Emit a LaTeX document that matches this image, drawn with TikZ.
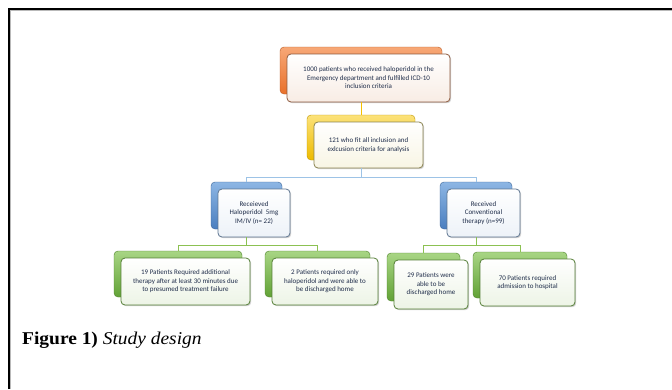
\documentclass[tikz,border=0pt]{standalone}
\usepackage{fontspec}
\setmainfont{Liberation Serif}
\newfontfamily\capfont[FakeStretch=1.08]{Liberation Serif}
\newfontfamily\boxfont{Carlito}
\usetikzlibrary{shadows}
\definecolor{txt}{HTML}{1F2D4A}
\definecolor{orM}{HTML}{E9702A}\definecolor{orL}{HTML}{F7A877}\definecolor{orT}{HTML}{F8ECE4}\definecolor{orB}{HTML}{8E5A3E}
\definecolor{yeM}{HTML}{EDBB00}\definecolor{yeL}{HTML}{FCE27A}\definecolor{yeT}{HTML}{F8F5E4}\definecolor{yeB}{HTML}{8A8350}
\definecolor{blM}{HTML}{4A7EBF}\definecolor{blL}{HTML}{8DB6E4}\definecolor{blT}{HTML}{EDF2F8}\definecolor{blB}{HTML}{5E7590}
\definecolor{grM}{HTML}{62A236}\definecolor{grL}{HTML}{A8D584}\definecolor{grT}{HTML}{EDF4E6}\definecolor{grB}{HTML}{557F37}
\definecolor{lnY}{HTML}{F5C000}\definecolor{lnB}{HTML}{9DC3E6}\definecolor{lnG}{HTML}{8CC152}
\tikzset{
  backbox/.style n args={2}{rectangle, rounded corners=4pt, inner sep=0pt, top color=#2, bottom color=#1, draw=#1!80!black, line width=0.4pt},
  frontbox/.style n args={2}{rectangle, rounded corners=4pt, inner sep=0pt, top color=white, bottom color=#1, draw=#2, line width=0.8pt,
     drop shadow={shadow xshift=1.2pt, shadow yshift=-1.2pt, opacity=0.35}, align=center, font=\boxfont\fontsize{7}{8.5}\selectfont, text=txt},
  conn/.style={line width=1pt, draw=#1},
  capt/.style={anchor=base west, inner sep=0pt, font=\capfont\fontsize{18}{20}\selectfont}
}
% name, colour prefix, back x1, back y1, back x2, back y2, text
\newcommand\twobox[7]{%
  \node[backbox={#2M}{#2L}, minimum width={#5pt-#3pt}, minimum height={#6pt-#4pt}] (#1b) at ({(#3+#5)/2},{(#4+#6)/2}) {};
  \node[frontbox={#2T}{#2B}, minimum width={#5pt-#3pt+1pt}, minimum height={#6pt-#4pt+1pt}] (#1) at ({(#3+#5)/2+7.5},{(#4+#6)/2+7.5}) {#7};
}
\begin{document}
\begin{tikzpicture}[x=1pt,y=-1pt]
\useasboundingbox (0,0) rectangle (672,389);
\fill[white] (0,0) rectangle (672,389);
% frame
\draw[gray!55, line width=1pt] (10.6,389) -- (10.6,10.6) -- (672,10.6);
\draw[black, line width=1.4pt] (9,389) -- (9,9) -- (672,9);

\twobox{a}{or}{280}{47}{442}{94}{1000 patients who received haloperidol in the\\Emergency department and fulfilled ICD-10\\inclusion criteria}
\twobox{b}{ye}{307}{115}{415}{160}{121 who fit all inclusion and\\exlcusion criteria for analysis}
\twobox{c}{bl}{211}{182}{282}{229}{Receieved\\Haloperidol\ \ 5mg\\IM/IV (n= 22)}
\twobox{d}{bl}{440}{182}{512}{229}{Received\\Conventional\\therapy (n=99)}
\twobox{e}{gr}{114}{251}{242}{297}{19 Patients Required additional\\therapy after at least 30 minutes due\\to presumed treatment failure}
\twobox{f}{gr}{265}{251}{370}{297}{2 Patients required only\\haloperidol and were able to\\be discharged home}
\twobox{g}{gr}{387}{253}{460}{301}{29 Patients were\\able to be\\discharged home}
\twobox{h}{gr}{473}{252}{567}{298}{70 Patients required\\admission to hospital}

\coordinate (jb) at (0,177);
\coordinate (jc) at (0,245);
\coordinate (jd) at (0,245);
\draw[conn=lnY] (a.south -| ab.center) -- (bb.north);
\draw[conn=lnB] (b.south -| bb.center) -- (bb.center |- jb) -- (cb.center |- jb) -- (cb.north);
\draw[conn=lnB] (bb.center |- jb) -- (db.center |- jb) -- (db.north);
\draw[conn=lnG] (c.south -| cb.center) -- (cb.center |- jc) -- (eb.center |- jc) -- (eb.north);
\draw[conn=lnG] (cb.center |- jc) -- (fb.center |- jc) -- (fb.north);
\draw[conn=lnG] (d.south -| db.center) -- (db.center |- jd) -- (gb.center |- jd) -- (gb.north);
\draw[conn=lnG] (db.center |- jd) -- (hb.center |- jd) -- (hb.north);

\node[capt] (cap) at (22,344) {\textbf{Figure 1)} \textit{Study design}};
\end{tikzpicture}
\end{document}
